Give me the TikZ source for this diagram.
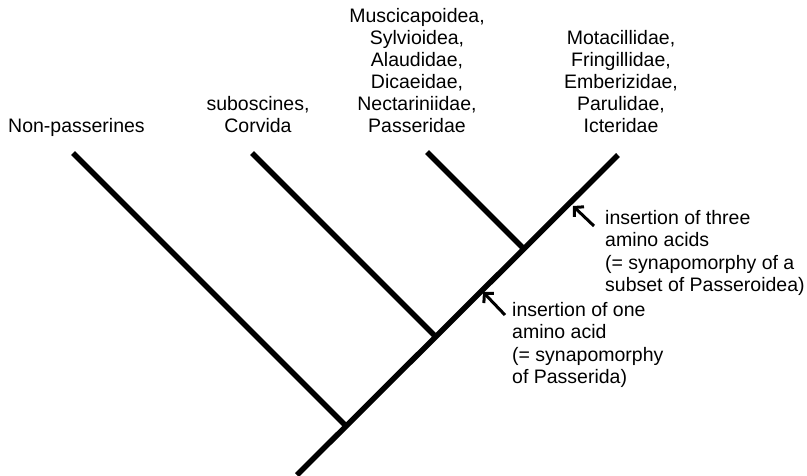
\documentclass[tikz,border=0pt]{standalone}
\usepackage{fontspec}
\setmainfont{Liberation Sans}
\usetikzlibrary{arrows.meta}
\begin{document}
\begin{tikzpicture}[x=1pt,y=-1pt,
  branch/.style={line width=5.5pt},
  lab/.style={inner sep=0pt, align=center, font=\fontsize{19.5}{22}\selectfont},
  note/.style={inner sep=0pt, align=left, font=\fontsize{19.5}{22.5}\selectfont},
  marker/.style={line width=3pt, -{Straight Barb[length=6.5pt,width=14pt]}}]
\useasboundingbox (0,0) rectangle (807,475);
% tree coordinates
\coordinate (root) at (297,475);
\coordinate (j1) at (346,426);
\coordinate (j2) at (435.5,336.5);
\coordinate (j3) at (523.5,248.5);
\coordinate (tnp) at (73,153);
\coordinate (tsub) at (252,153);
\coordinate (tmus) at (427,152);
\coordinate (tmot) at (618,155);
% branches
\draw[branch] (root) -- (tmot);
\draw[branch] (j1) -- (tnp);
\draw[branch] (j2) -- (tsub);
\draw[branch] (j3) -- (tmus);
% labels
\node[lab, anchor=north west] (np) at (8,118) {Non-passerines};
\node[lab, anchor=north] (sub) at (258,96) {suboscines,\\Corvida};
\node[lab, anchor=north] (mus) at (417,8) {Muscicapoidea,\\Sylvioidea,\\Alaudidae,\\Dicaeidae,\\Nectariniidae,\\Passeridae};
\node[lab, anchor=north] (mot) at (621,30) {Motacillidae,\\Fringillidae,\\Emberizidae,\\Parulidae,\\Icteridae};
% annotations
\node[note, anchor=north west] (n1) at (605,210) {insertion of three\\amino acids\\(= synapomorphy of a\\subset of Passeroidea)};
\node[note, anchor=north west] (n2) at (512,302) {insertion of one\\amino acid\\(= synapomorphy\\of Passerida)};
\coordinate (a1tail) at (594,226);
\coordinate (a1tip) at (573,206);
\coordinate (a2tail) at (505,315);
\coordinate (a2tip) at (483,292);
\draw[marker] (a1tail) -- (a1tip);
\draw[marker] (a2tail) -- (a2tip);
\end{tikzpicture}
\end{document}
